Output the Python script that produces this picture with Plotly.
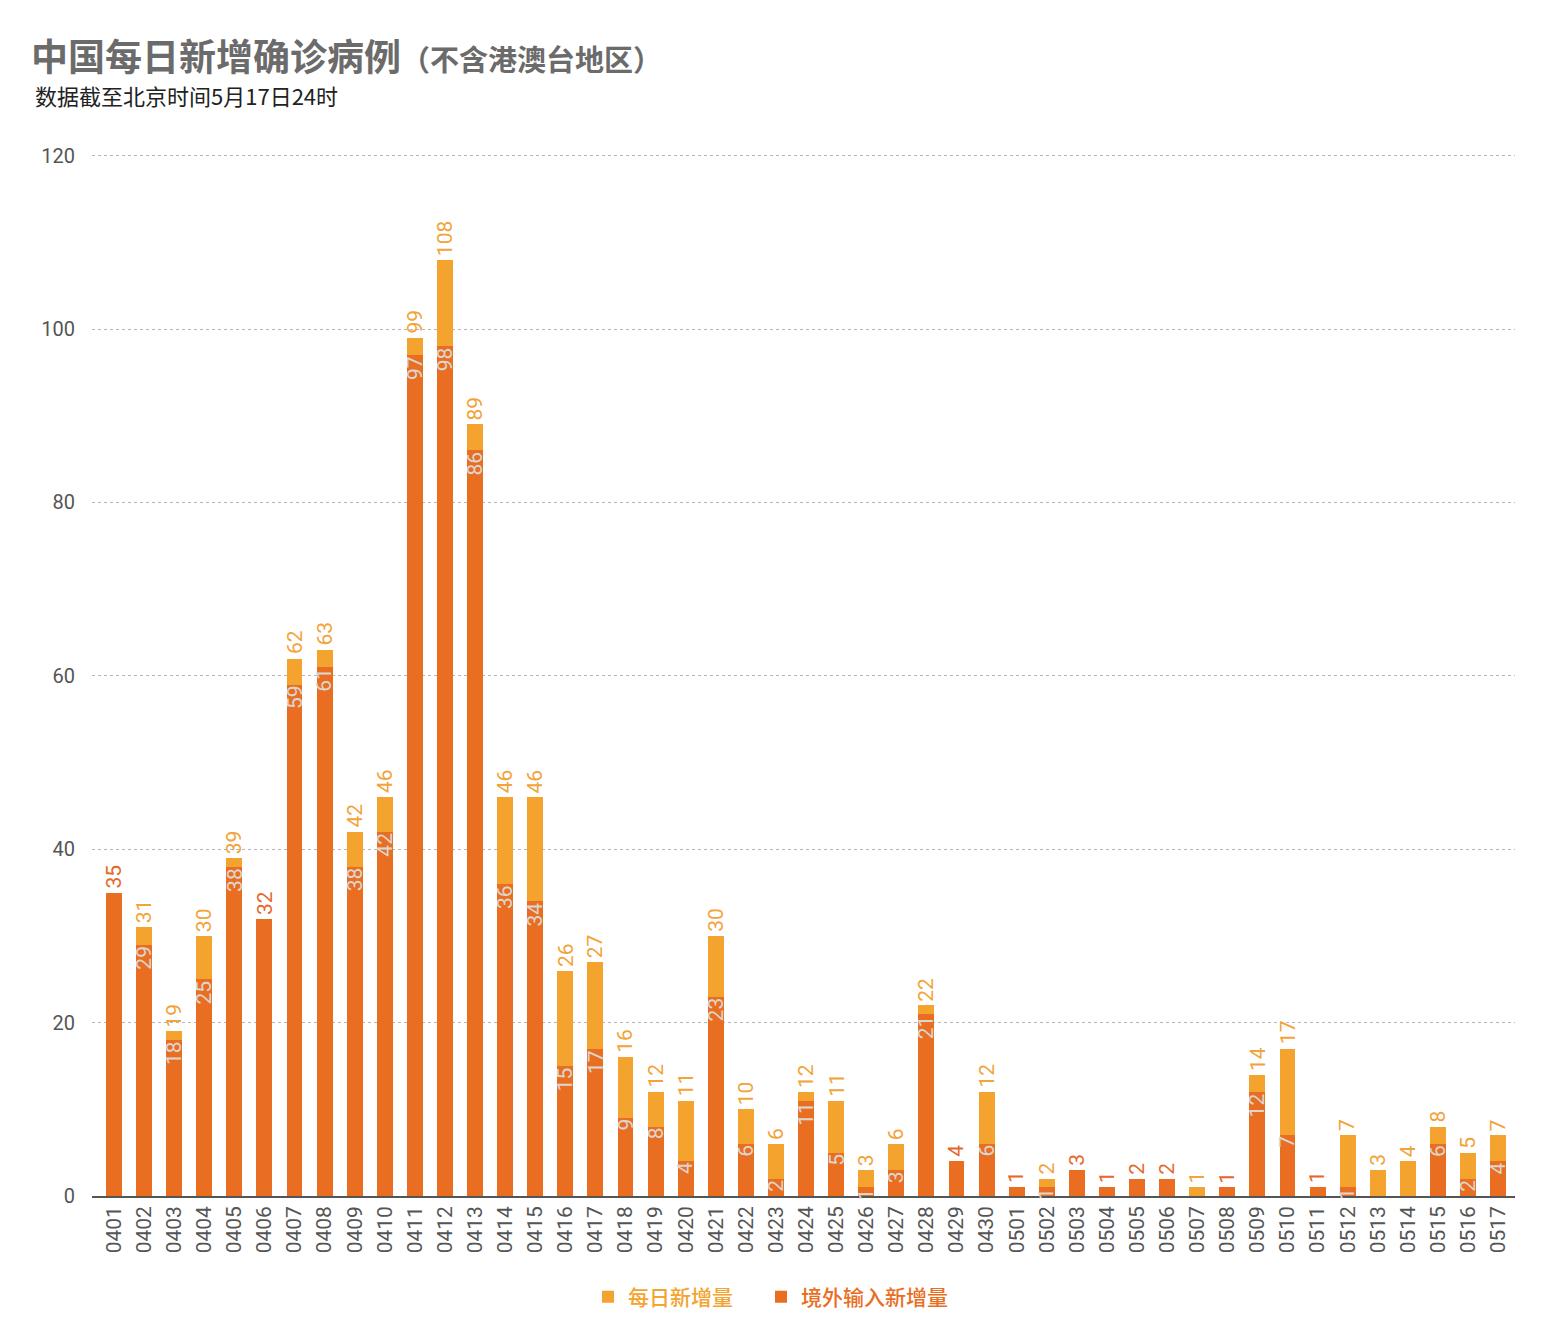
import plotly.graph_objects as go

dates = ["0401","0402","0403","0404","0405","0406","0407","0408","0409","0410",
         "0411","0412","0413","0414","0415","0416","0417","0418","0419","0420",
         "0421","0422","0423","0424","0425","0426","0427","0428","0429","0430",
         "0501","0502","0503","0504","0505","0506","0507","0508","0509","0510",
         "0511","0512","0513","0514","0515","0516","0517"]
total = [35,31,19,30,39,32,62,63,42,46,
         99,108,89,46,46,26,27,16,12,11,
         30,10,6,12,11,3,6,22,4,12,
         1,2,3,1,2,2,1,1,14,17,
         1,7,3,4,8,5,7]
imported = [35,29,18,25,38,32,59,61,38,42,
            97,98,86,36,34,15,17,9,8,4,
            23,6,2,11,5,1,3,21,4,6,
            1,1,3,1,2,2,0,1,12,7,
            1,1,0,0,6,2,4]
local = [t - i for t, i in zip(total, imported)]
yticks = [0, 20, 40, 60, 80, 100, 120]

DARK = "#EA6E22"
YELLOW = "#F4A32F"
LABEL_DARK = "#E5672A"
LABEL_YELLOW = "#F2A33A"
LABEL_INNER = "#DAD6D2"
NUMFONT = "Roboto, Liberation Sans, sans-serif"
CJK = "Noto Sans CJK SC, sans-serif"

idx = list(range(len(dates)))

fig = go.Figure()
fig.add_trace(go.Bar(x=idx, y=imported, marker_color=DARK, marker_line_width=0,
                     name=f"<span style='color:{DARK}'>境外输入新增量</span>", legend="legend2"))
fig.add_trace(go.Bar(x=idx, y=local, marker_color=YELLOW, marker_line_width=0,
                     name=f"<span style='color:{YELLOW}'>每日新增量</span>", legend="legend"))

ann = []
for k, t, i in zip(idx, total, imported):
    col = LABEL_DARK if i == t else LABEL_YELLOW
    ann.append(dict(x=k, y=t, xref="x", yref="y", text=str(t), showarrow=False,
                    textangle=-90, xanchor="center", yanchor="bottom", yshift=2,
                    font=dict(family=NUMFONT, size=21, color=col)))
    if 0 < i < t:
        ann.append(dict(x=k, y=i, xref="x", yref="y", text=str(i), showarrow=False,
                        textangle=-90, xanchor="center", yanchor="top", yshift=1,
                        font=dict(family=NUMFONT, size=21, color=LABEL_INNER)))

YMAX = 121
L, R, B = 92, 1515, 1196
T = B - (B - 156) * YMAX / 120
W, H = 1549, 1343
def px(xp):
    return (xp - L) / (R - L)
def py(yp):
    return (B - yp) / (B - T)

ann.append(dict(xref="paper", yref="paper", x=px(29), y=py(55), xanchor="left", yanchor="middle",
                showarrow=False,
                text="<b>中国每日新增确诊病例</b><span style='font-size:29px'><b>（不含港澳台地区）</b></span>",
                font=dict(family=CJK, size=37, color="#6b6b6b")))
ann.append(dict(xref="paper", yref="paper", x=px(33), y=py(95), xanchor="left", yanchor="middle",
                showarrow=False, text="数据截至北京时间5月17日24时",
                font=dict(family=CJK, size=22, color="#222222")))

legfont = dict(family=CJK, size=21, weight=500)
fig.update_layout(
    width=W, height=H,
    margin=dict(l=L, r=W - R, t=T, b=H - B),
    barmode="stack", bargap=0.47,
    plot_bgcolor="white", paper_bgcolor="white",
    annotations=ann,
    showlegend=True,
    legend=dict(orientation="h", x=px(588), y=py(1297), xanchor="left", yanchor="middle",
                itemwidth=30, font=legfont),
    legend2=dict(orientation="h", x=px(761), y=py(1297), xanchor="left", yanchor="middle",
                 itemwidth=30, font=legfont),
    xaxis=dict(range=[-0.73, 46.56], tickvals=idx, ticktext=dates, tickangle=-90,
               tickfont=dict(family=NUMFONT, size=21, color="#555555"),
               showline=True, linecolor="#555555", linewidth=1.5, ticks="",
               showgrid=False, zeroline=False),
    yaxis=dict(range=[0, YMAX], tickvals=yticks, ticktext=[str(v) for v in yticks],
               tickfont=dict(family=NUMFONT, size=20, color="#555555"),
               showgrid=True, gridcolor="#b5b5b5", griddash="dot", gridwidth=1,
               zeroline=False, showline=False, ticks="", ticklabelstandoff=16),
)

fig.write_html("out.html")
